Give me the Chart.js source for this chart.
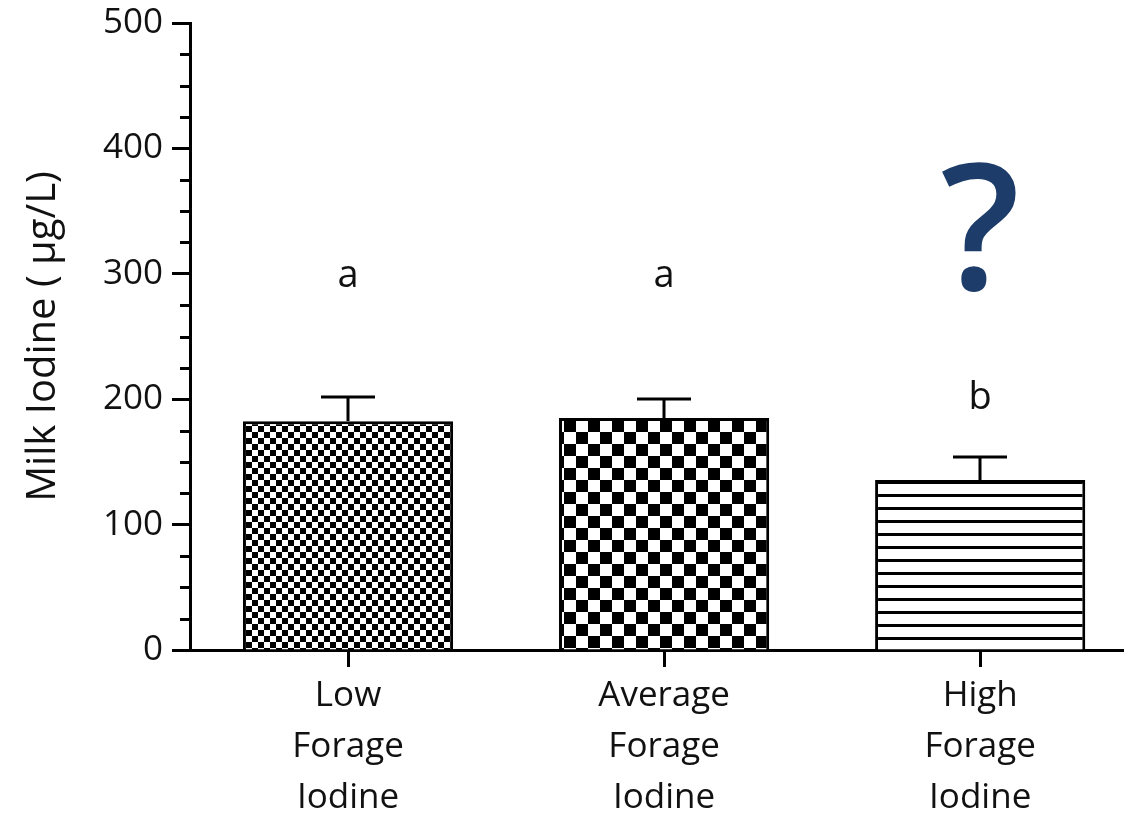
<!DOCTYPE html>
<html>
<head>
<meta charset="utf-8">
<script src="https://cdn.jsdelivr.net/npm/chart.js@4.4.1/dist/chart.umd.min.js"></script>
<style>
  html, body { margin: 0; padding: 0; background: #fff; }
  #wrap { width: 1124px; height: 821px; }
</style>
</head>
<body>
<div id="wrap"><canvas id="c" width="1124" height="821"></canvas></div>
<script>
// ---- data ----
const categories = [["Low", "Forage", "Iodine"], ["Average", "Forage", "Iodine"], ["High", "Forage", "Iodine"]];
const meanValues = [182.5, 185, 135.5];
const semValues = [19, 15.5, 18.5];
const sigLetters = ["a", "a", "b"];
const sigLetterValues = [298, 298, 201];
const questionMark = "?";
const questionCategory = 3;
const questionValue = 327;
const yTickValues = [0, 100, 200, 300, 400, 500];
const yMinorStep = 25;

// ---- patterns ----
function checkerPattern(cell) {
  const p = document.createElement('canvas');
  p.width = cell * 2; p.height = cell * 2;
  const g = p.getContext('2d');
  g.fillStyle = '#fff'; g.fillRect(0, 0, p.width, p.height);
  g.fillStyle = '#000';
  g.fillRect(0, 0, cell, cell);
  g.fillRect(cell, cell, cell, cell);
  return g.createPattern(p, 'repeat');
}
function stripePattern(period, thick) {
  const p = document.createElement('canvas');
  p.width = 8; p.height = period;
  const g = p.getContext('2d');
  g.fillStyle = '#fff'; g.fillRect(0, 0, p.width, p.height);
  g.fillStyle = '#000';
  g.fillRect(0, 0, p.width, thick);
  return g.createPattern(p, 'repeat');
}
const ctx = document.getElementById('c').getContext('2d');
const patterns = [checkerPattern(6), checkerPattern(12), stripePattern(13, 3)];

const FONT = "'Open Sans', 'DejaVu Sans', sans-serif";

const extrasPlugin = {
  id: 'extras',
  afterDraw(chart) {
    const xs = chart.scales.x, ys = chart.scales.y, c = chart.ctx;
    c.save();
    c.strokeStyle = '#000';
    c.lineWidth = 3;
    c.lineCap = 'butt';
    // minor ticks on y axis
    const axisX = ys.right;
    for (let v = 0; v <= 500; v += yMinorStep) {
      if (v % 100 === 0) continue;
      const y = Math.round(ys.getPixelForValue(v)) + 0.5;
      c.beginPath(); c.moveTo(axisX - 10, y); c.lineTo(axisX, y); c.stroke();
    }
    // error bars
    meanValues.forEach((m, i) => {
      const x = Math.round(xs.getPixelForValue(i + 1));
      const y0 = ys.getPixelForValue(m);
      const y1 = Math.round(ys.getPixelForValue(m + semValues[i]));
      c.beginPath(); c.moveTo(x, y0); c.lineTo(x, y1); c.stroke();
      c.beginPath(); c.moveTo(x - 27, y1); c.lineTo(x + 27, y1); c.stroke();
    });
    // significance letters
    c.fillStyle = '#111';
    c.textAlign = 'center';
    c.textBaseline = 'middle';
    c.font = '38px ' + FONT;
    sigLetters.forEach((t, i) => {
      c.fillText(t, xs.getPixelForValue(i + 1), ys.getPixelForValue(sigLetterValues[i]));
    });
    // question mark
    c.fillStyle = '#1d3c69';
    c.font = '600 175px ' + FONT;
    c.fillText(questionMark, xs.getPixelForValue(questionCategory), ys.getPixelForValue(questionValue));
    c.restore();
  }
};

new Chart(ctx, {
  type: 'bar',
  data: {
    datasets: [{
      data: meanValues.map((v, i) => ({ x: i + 1, y: v })),
      backgroundColor: patterns,
      borderColor: '#000',
      borderWidth: 3,
      borderSkipped: 'bottom',
      barPercentage: 0.665,
      categoryPercentage: 1.0
    }]
  },
  options: {
    responsive: false,
    animation: false,
    layout: { padding: { top: 6, right: 0, left: 0, bottom: 0 } },
    plugins: { legend: { display: false }, tooltip: { enabled: false } },
    scales: {
      x: {
        type: 'linear',
        offset: false,
        min: 0.5,
        max: 3.455,
        afterBuildTicks(scale) { scale.ticks = [1, 2, 3].map(v => ({ value: v })); },
        afterFit(scale) { scale.height = 171; },
        ticks: {
          callback: (v) => categories[Math.round(v) - 1] || '',
          font: { size: 35, family: FONT, lineHeight: 1.45 },
          color: '#111',
          padding: 4,
          maxRotation: 0,
          autoSkip: false
        },
        grid: { drawOnChartArea: false, tickLength: 17, tickWidth: 3, tickColor: '#000', offset: false },
        border: { display: true, color: '#000', width: 3 }
      },
      y: {
        min: 0,
        max: 500,
        afterBuildTicks(scale) { scale.ticks = yTickValues.map(v => ({ value: v })); },
        afterFit(scale) { scale.width = 190; },
        ticks: {
          font: { size: 35, family: FONT, lineHeight: 0.8 },
          color: '#111',
          padding: 9
        },
        grid: { drawOnChartArea: false, tickLength: 18, tickWidth: 3, tickColor: '#000' },
        border: { display: true, color: '#000', width: 3 },
        title: {
          display: true,
          text: 'Milk Iodine ( µg/L)',
          font: { size: 40, family: FONT },
          color: '#111',
          padding: { top: 20, bottom: 0 }
        }
      }
    }
  },
  plugins: [extrasPlugin]
});
</script>
</body>
</html>
